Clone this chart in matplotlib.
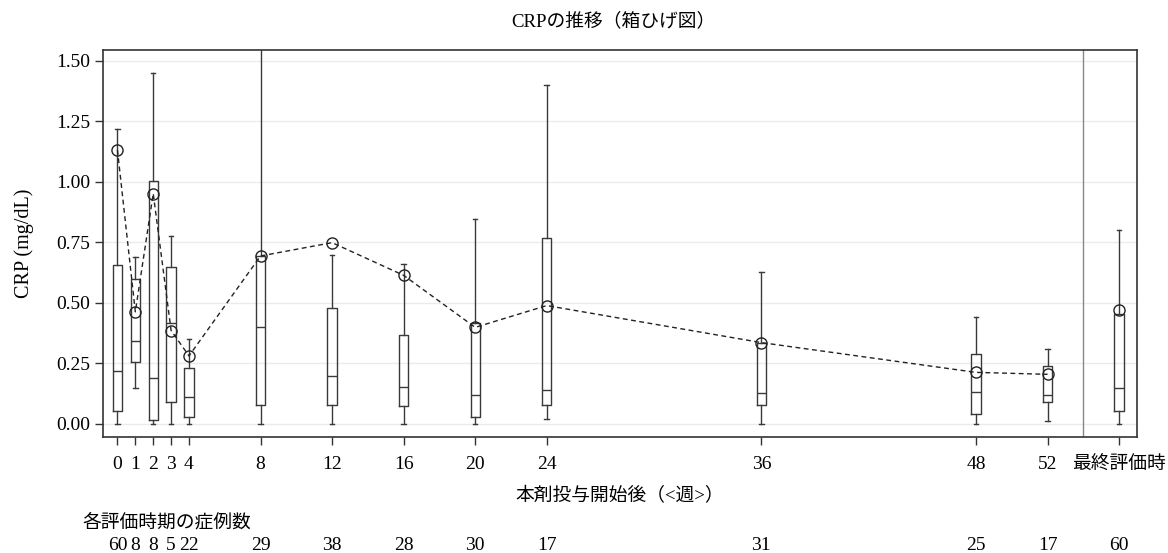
import matplotlib
matplotlib.use("Agg")
import matplotlib.pyplot as plt
from matplotlib.transforms import blended_transform_factory

plt.rcParams['font.family'] = ['Liberation Serif', 'Noto Sans CJK JP']

# Visit positions (weeks); final evaluation placed at 56
weeks = [0, 1, 2, 3, 4, 8, 12, 16, 20, 24, 36, 48, 52, 56]
tick_labels = ['0', '1', '2', '3', '4', '8', '12', '16', '20', '24', '36', '48', '52', '最終評価時']
counts = [60, 8, 8, 5, 22, 29, 38, 28, 30, 17, 31, 25, 17, 60]

whisker_low = [0.00, 0.15, 0.00, 0.00, 0.00, 0.00, 0.00, 0.00, 0.00, 0.02, 0.00, 0.00, 0.014, 0.00]
q1 = [0.055, 0.255, 0.017, 0.089, 0.030, 0.079, 0.079, 0.074, 0.029, 0.079, 0.079, 0.039, 0.090, 0.052]
median = [0.220, 0.344, 0.189, 0.419, 0.110, 0.401, 0.200, 0.152, 0.118, 0.139, 0.129, 0.131, 0.120, 0.150]
q3 = [0.658, 0.597, 1.004, 0.650, 0.230, 0.694, 0.481, 0.369, 0.419, 0.769, 0.333, 0.289, 0.240, 0.453]
whisker_high = [1.218, 0.689, 1.449, 0.778, 0.352, 1.700, 0.698, 0.660, 0.848, 1.399, 0.629, 0.441, 0.309, 0.800]
means = [1.132, 0.463, 0.952, 0.386, 0.281, 0.694, 0.749, 0.614, 0.399, 0.489, 0.336, 0.213, 0.205, 0.470]

fig = plt.figure(figsize=(11.68, 5.53), dpi=100)
ax = fig.add_axes([102.6 / 1168, 1 - 437 / 553, (1137 - 102.6) / 1168, (437 - 50) / 553])

stats = []
for i in range(len(weeks)):
    stats.append(dict(whislo=whisker_low[i], q1=q1[i], med=median[i], q3=q3[i],
                      whishi=whisker_high[i], fliers=[]))

lc = '#3a3a3a'
ax.bxp(stats, positions=weeks, widths=0.52, capwidths=0.25, showfliers=False,
       manage_ticks=False,
       boxprops=dict(color=lc, linewidth=1.0),
       medianprops=dict(color=lc, linewidth=1.0),
       whiskerprops=dict(color=lc, linewidth=1.0),
       capprops=dict(color=lc, linewidth=1.0), zorder=3)

# mean markers and dashed connecting line (weeks 0-52)
ax.plot(weeks[:-1], means[:-1], linestyle=(0, (3.5, 2.5)), color='#222222', linewidth=1.0, zorder=4)
ax.plot(weeks, means, linestyle='none', marker='o', markersize=8, markerfacecolor='none',
        markeredgecolor='#222222', markeredgewidth=1.0, zorder=5)

# separator before final evaluation
ax.axvline(54, color='#888888', linewidth=1.0, zorder=2)

ax.set_xlim(-0.83, 57.0)
ax.set_ylim(-0.054, 1.545)
yt = [0.0, 0.25, 0.5, 0.75, 1.0, 1.25, 1.5]
ax.set_yticks(yt)
ax.set_yticklabels([f'{v:.2f}' for v in yt])
ax.set_xticks(weeks)
ax.set_xticklabels(tick_labels)
for lab in ax.get_xticklabels():
    if lab.get_text() == '最終評価時':
        lab.set_fontsize(13.5)
ax.yaxis.grid(True, color='#ebebeb', linewidth=1.0, zorder=0)
ax.set_axisbelow(True)
ax.tick_params(axis='both', labelsize=14, length=6, width=1.0, color='#333333', direction='out')
ax.tick_params(axis='x', pad=8)
ax.tick_params(axis='y', pad=3)
for lab in ax.get_xticklabels():
    if lab.get_text() == '最終評価時':
        lab.set_fontsize(13.5)
for s in ax.spines.values():
    s.set_linewidth(1.2)
    s.set_color('#333333')

ax.set_ylabel('CRP (mg/dL)', fontsize=14.5, labelpad=16)
ax.set_xlabel('本剤投与開始後（<週>）', fontsize=13.5, labelpad=10)

fig.text(613 / 1168, 1 - 21 / 553, 'CRPの推移（箱ひげ図）', ha='center', va='center', fontsize=13.5)

fig.text(82 / 1168, 1 - 523 / 553, '各評価時期の症例数', ha='left', va='center', fontsize=13.5)
tr = blended_transform_factory(ax.transData, fig.transFigure)
for w, c in zip(weeks, counts):
    ax.text(w, 1 - 545 / 553, str(c), transform=tr, ha='center', va='center', fontsize=14, clip_on=False)

fig.savefig('out.png', dpi=100)
